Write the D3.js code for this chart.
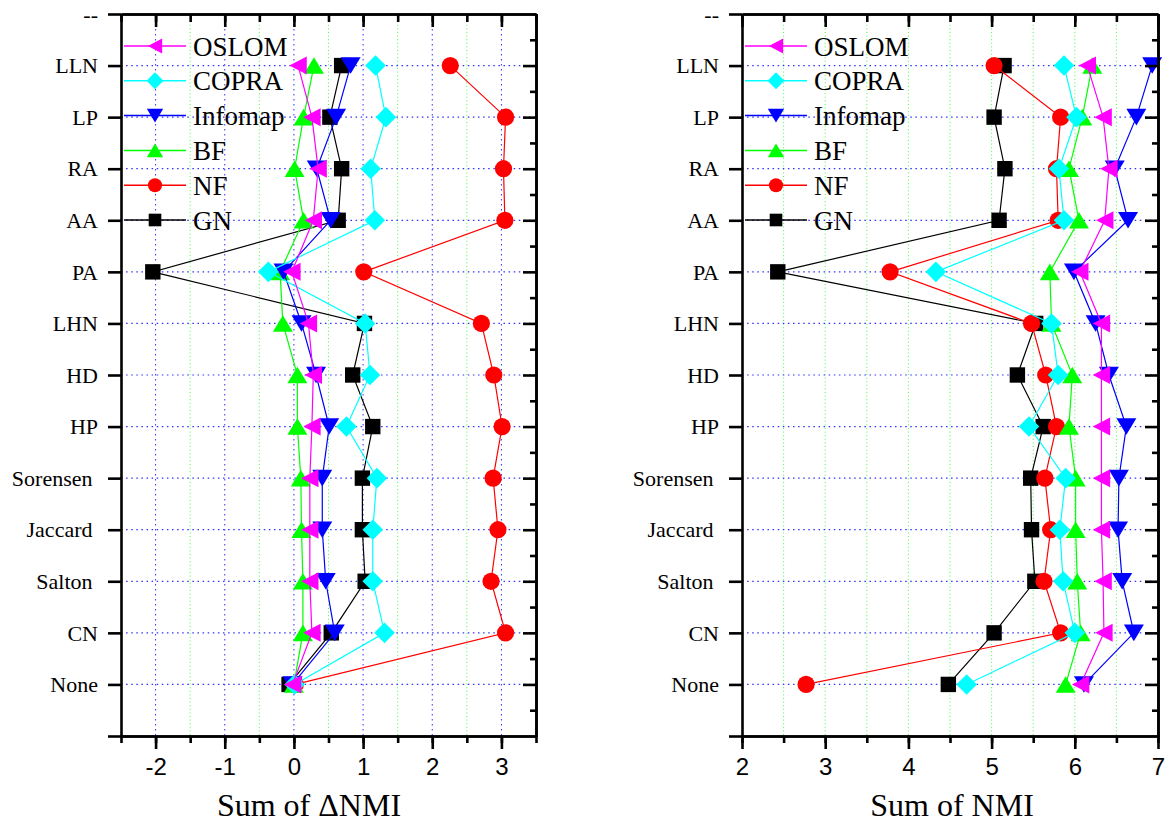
<!DOCTYPE html>
<html>
<head>
<meta charset="utf-8">
<script src="https://cdn.jsdelivr.net/npm/d3@7"></script>
<style>
body{margin:0;background:#fff;}
svg text{white-space:pre;}
</style>
</head>
<body>
<svg width="1168" height="823"></svg>
<script>
//row labels, top to bottom (first one sits on the top frame)
var categories = ["--","LLN","LP","RA","AA","PA","LHN","HD","HP","Sorensen ","Jaccard ","Salton ","CN","None"];
var methods = ["OSLOM","COPRA","Infomap","BF","NF","GN"];
var colors = ["#ff00ff","#00ffff","#0000ff","#00ff00","#ff0000","#000000"];
var shapes = ["left","diamond","down","up","circle","square"];

//values for LLN .. None, one list per method
var deltaOSLOM   = [0.06,0.26,0.35,0.28,-0.03,0.21,0.28,0.26,0.23,0.23,0.23,0.26,-0.02];
var deltaCOPRA   = [1.18,1.33,1.11,1.17,-0.37,1.03,1.10,0.76,1.20,1.14,1.14,1.31,0.01];
var deltaInfomap = [0.82,0.61,0.33,0.53,-0.15,0.11,0.32,0.51,0.41,0.41,0.46,0.59,-0.02];
var deltaBF      = [0.29,0.14,0.01,0.14,-0.20,-0.16,0.05,0.05,0.10,0.11,0.13,0.13,0.00];
var deltaNF      = [2.26,3.06,3.03,3.05,1.01,2.71,2.89,3.01,2.88,2.95,2.85,3.06,0.02];
var deltaGN      = [0.69,0.52,0.69,0.64,-2.04,1.02,0.85,1.14,0.99,0.99,1.03,0.54,-0.07];

var nmiOSLOM   = [6.15,6.34,6.41,6.36,6.06,6.32,6.32,6.32,6.32,6.32,6.34,6.35,6.07];
var nmiCOPRA   = [5.87,6.02,5.81,5.87,4.33,5.72,5.80,5.45,5.89,5.82,5.86,6.00,4.70];
var nmiInfomap = [6.93,6.74,6.48,6.64,5.99,6.25,6.41,6.62,6.53,6.52,6.57,6.71,6.11];
var nmiBF      = [6.21,6.09,5.93,6.05,5.70,5.72,5.97,5.93,6.01,6.01,6.03,6.07,5.89];
var nmiNF      = [5.03,5.83,5.78,5.80,3.78,5.48,5.65,5.78,5.64,5.71,5.63,5.83,2.77];
var nmiGN      = [5.15,5.03,5.16,5.09,2.43,5.53,5.31,5.62,5.47,5.48,5.52,5.03,4.48];

var leftTicks = [-2,-1,0,1,2,3];
var leftTickLabels = ["-2","-1","0","1","2","3"];
var rightTicks = [2,3,4,5,6,7];
var rightTickLabels = ["2","3","4","5","6","7"];

var serif = "'Liberation Serif','Times New Roman',serif";
var sans = "'Liberation Sans',Arial,sans-serif";

//marker outlines, centred on 0,0
var markerPath = function(shape,k)
{
    if(shape=="circle") return d3.symbol(d3.symbolCircle,Math.PI*8.6*8.6*k*k)();
    var s = function(p){ return p.map(function(v){return v*k;}); };
    var pts;
    if(shape=="square")  pts = [[-7.7,-7.7],[7.7,-7.7],[7.7,7.7],[-7.7,7.7]];
    if(shape=="diamond") pts = [[0,-10.3],[10.3,0],[0,10.3],[-10.3,0]];
    if(shape=="up")      pts = [[0,-8.3],[10,8.3],[-10,8.3]];
    if(shape=="down")    pts = [[-10,-8.3],[10,-8.3],[0,8.3]];
    if(shape=="left")    pts = [[-8.7,0],[8.7,-9],[8.7,9]];
    return "M"+pts.map(s).map(function(p){return p.join(",");}).join("L")+"Z";
}

var yScale = d3.scaleLinear().domain([0,14]).range([14,736]);

var drawPanel = function(svg,opt)
{
    var x = opt.xScale;
    var top = yScale.range()[0], bottom = yScale.range()[1];
    var left = x.range()[0], right = x.range()[1];
    var g = svg.append("g");

    //dotted grid
    g.append("g").selectAll("line")
        .data(opt.gridX)
        .enter().append("line")
        .attr("x1",function(d){return x(d);}).attr("x2",function(d){return x(d);})
        .attr("y1",top).attr("y2",bottom)
        .attr("stroke",function(d){return (opt.blueInts && Number.isInteger(d)) ? "#3030ff" : "#40ff40";})
        .attr("stroke-width",1)
        .attr("stroke-dasharray",function(d){return (opt.blueInts && Number.isInteger(d)) ? "1.5,3.5" : "1,2.6";});
    g.append("g").selectAll("line")
        .data(d3.range(1,14))
        .enter().append("line")
        .attr("x1",left).attr("x2",right)
        .attr("y1",function(d){return yScale(d);}).attr("y2",function(d){return yScale(d);})
        .attr("stroke","#3030ff").attr("stroke-width",1.2)
        .attr("stroke-dasharray","1.5,3.6");

    //series, last one drawn first
    var line = d3.line()
        .x(function(d){return x(d);})
        .y(function(d,i){return yScale(i+1);});
    for(var m=methods.length-1;m>=0;m--)
    {
        var vals = opt.series[m];
        var sg = g.append("g");
        sg.append("path")
            .datum(vals)
            .attr("fill","none")
            .attr("stroke",colors[m])
            .attr("stroke-width",1.2)
            .attr("d",line);
        sg.selectAll("path.mk")
            .data(vals)
            .enter().append("path")
            .classed("mk",true)
            .attr("d",markerPath(shapes[m],1))
            .attr("fill",colors[m])
            .attr("transform",function(d,i){return "translate("+x(d)+","+yScale(i+1)+")";});
    }

    //legend
    var leg = g.append("g");
    methods.forEach(function(name,i)
    {
        var ly = 46+34.8*i;
        leg.append("line")
            .attr("x1",opt.legX).attr("x2",opt.legX+62)
            .attr("y1",ly).attr("y2",ly)
            .attr("stroke",colors[i]).attr("stroke-width",1.5);
        leg.append("path")
            .attr("d",markerPath(shapes[i],0.82))
            .attr("fill",colors[i])
            .attr("transform","translate("+(opt.legX+31)+","+ly+")");
        leg.append("text")
            .text(name)
            .attr("x",opt.legX+69).attr("y",ly+9.5)
            .attr("font-family",serif).attr("font-size",27);
    });

    //frame and ticks
    var styleAxis = function(a)
    {
        a.select(".domain").attr("stroke-width",2.6).attr("stroke","#000");
        a.selectAll(".tick line").attr("stroke-width",2.6).attr("stroke","#000");
    }
    var minorX = d3.range(x.domain()[0],x.domain()[1]+0.01,0.5);
    var halfY = d3.range(0.5,14,0.5);

    g.append("g").attr("transform","translate(0,"+bottom+")")
        .call(d3.axisBottom(x).tickValues(minorX).tickSize(7).tickSizeOuter(0).tickFormat(""))
        .call(styleAxis);
    var xa = g.append("g").attr("transform","translate(0,"+bottom+")")
        .call(d3.axisBottom(x).tickValues(opt.ticks).tickSize(13).tickSizeOuter(0)
              .tickPadding(8)
              .tickFormat(function(d,i){return opt.tickLabels[i];}))
        .call(styleAxis);
    xa.selectAll("text").attr("font-family",sans).attr("font-size",24).attr("fill","#000")
        .attr("dy","0.74em");

    g.append("g").attr("transform","translate(0,"+top+")")
        .call(d3.axisTop(x).tickValues(minorX).tickSize(-8).tickSizeOuter(0).tickFormat(""))
        .call(styleAxis);
    g.append("g").attr("transform","translate(0,"+top+")")
        .call(d3.axisTop(x).tickValues(opt.ticks).tickSize(-13).tickSizeOuter(0).tickFormat(""))
        .call(styleAxis);

    var ya = g.append("g").attr("transform","translate("+left+",0)")
        .call(d3.axisLeft(yScale).tickValues(d3.range(0,15)).tickSize(13).tickSizeOuter(0)
              .tickPadding(10)
              .tickFormat(function(d){return categories[d] || "";}))
        .call(styleAxis);
    ya.selectAll("text").attr("font-family",serif).attr("font-size",22).attr("fill","#000")
        .attr("dy","0.33em");

    g.append("g").attr("transform","translate("+right+",0)")
        .call(d3.axisRight(yScale).tickValues(halfY.filter(function(v){return !Number.isInteger(v);}))
              .tickSize(-6).tickSizeOuter(0).tickFormat(""))
        .call(styleAxis);
    g.append("g").attr("transform","translate("+right+",0)")
        .call(d3.axisRight(yScale).tickValues(d3.range(1,14)).tickSize(-13).tickSizeOuter(0).tickFormat(""))
        .call(styleAxis);

    //axis title
    g.append("text")
        .text(opt.title)
        .attr("text-anchor","middle")
        .attr("x",opt.titleX).attr("y",816)
        .attr("font-family",serif).attr("font-size",32);
}

var svg = d3.select("svg");

drawPanel(svg,{
    xScale: d3.scaleLinear().domain([-2.5,3.5]).range([121,536]),
    gridX: d3.range(-2,3.01,0.5),
    blueInts: true,
    series: [deltaOSLOM,deltaCOPRA,deltaInfomap,deltaBF,deltaNF,deltaGN],
    ticks: leftTicks,
    tickLabels: leftTickLabels,
    legX: 124,
    title: "Sum of \u0394NMI",
    titleX: 309
});

drawPanel(svg,{
    xScale: d3.scaleLinear().domain([2,7]).range([742,1158]),
    gridX: d3.range(2.5,6.51,0.5),
    blueInts: false,
    series: [nmiOSLOM,nmiCOPRA,nmiInfomap,nmiBF,nmiNF,nmiGN],
    ticks: rightTicks,
    tickLabels: rightTickLabels,
    legX: 745,
    title: "Sum of NMI",
    titleX: 952
});
</script>
</body>
</html>
